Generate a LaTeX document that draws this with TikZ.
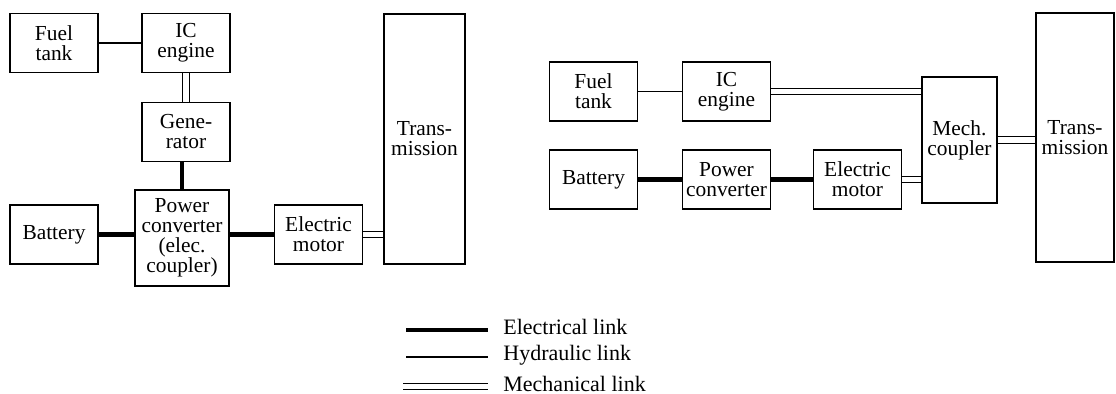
\documentclass[tikz,border=0pt]{standalone}
\usepackage{fontspec}
\setmainfont{Liberation Serif}
\usetikzlibrary{positioning}

\begin{document}
\begin{tikzpicture}[x=0.5pt, y=-0.5pt,
        block/.style={rectangle, draw=black, line width=0.7pt, inner sep=0pt, minimum width=44pt, minimum height=29.5pt, align=center, font=\fontsize{10.7}{10}\selectfont},
        elec/.style={line width=2.4pt},
        hydr/.style={line width=0.6pt},
        mech/.style={double, line width=0.6pt, double distance=2.6pt},
        legtext/.style={anchor=west, inner sep=0pt, font=\fontsize{11}{12}\selectfont}
    ]
        \useasboundingbox (0,0) rectangle (1116,394);
        % series hybrid
        \node[block] (tank1) at (54,43) {Fuel\\tank};
        \node[block] (ice1) at (186,43) {IC\\engine};
        \node[block] (gen1) at (186,132) {Gene-\\rator};
        \node[block, minimum width=47pt, minimum height=48pt] (conv1) at (182,238) {Power\\converter\\(elec.\\coupler)};
        \node[block] (bat1) at (54,234.5) {Battery};
        \node[block] (mot1) at (318.5,234.5) {Electric\\motor};
        \node[block, minimum width=40.5pt, minimum height=125pt] (trans1) at (424.5,139) {Trans-\\mission};
        \draw[hydr] (tank1) -- (ice1);
        \draw[mech] (ice1) -- (gen1);
        \draw[elec] (conv1.north) -- (conv1.north |- gen1.south);
        \draw[elec] (bat1.east) -- (bat1.east -| conv1.west);
        \draw[elec] (mot1.west -| conv1.east) -- (mot1.west);
        \draw[mech] (mot1.east) -- (mot1.east -| trans1.west);
        % parallel hybrid
        \node[block] (tank2) at (593.5,91.5) {Fuel\\tank};
        \node[block] (ice2) at (726.5,91.5) {IC\\engine};
        \node[block] (bat2) at (593.5,179.5) {Battery};
        \node[block] (conv2) at (726.5,179.5) {Power\\converter};
        \node[block] (mot2) at (857.5,179.5) {Electric\\motor};
        \node[block, minimum width=37.5pt, minimum height=63pt] (coup2) at (959.5,140) {Mech.\\coupler};
        \node[block, minimum width=39pt, minimum height=124.5pt] (trans2) at (1075,137.5) {Trans-\\mission};
        \draw[hydr] (tank2) -- (ice2);
        \draw[mech] (ice2.east) -- (ice2.east -| coup2.west);
        \draw[elec] (bat2) -- (conv2);
        \draw[elec] (conv2) -- (mot2);
        \draw[mech] (mot2.east) -- (mot2.east -| coup2.west);
        \draw[mech] (coup2.east) -- (coup2.east -| trans2.west);
        % legend
        \coordinate (e1) at (406,330); \coordinate (e2) at (488,330);
        \coordinate (h1) at (406,357); \coordinate (h2) at (488,357);
        \coordinate (m1) at (403,386.5); \coordinate (m2) at (488,386.5);
        \draw[elec] (e1) -- (e2);
        \draw[hydr] (h1) -- (h2);
        \draw[mech] (m1) -- (m2);
        \node[legtext] (etext) at (503,327) {Electrical link};
        \node[legtext] (htext) at (503,355) {Hydraulic link};
        \node[legtext] (mtext) at (503,384) {Mechanical link};
    \end{tikzpicture}
\end{document}
